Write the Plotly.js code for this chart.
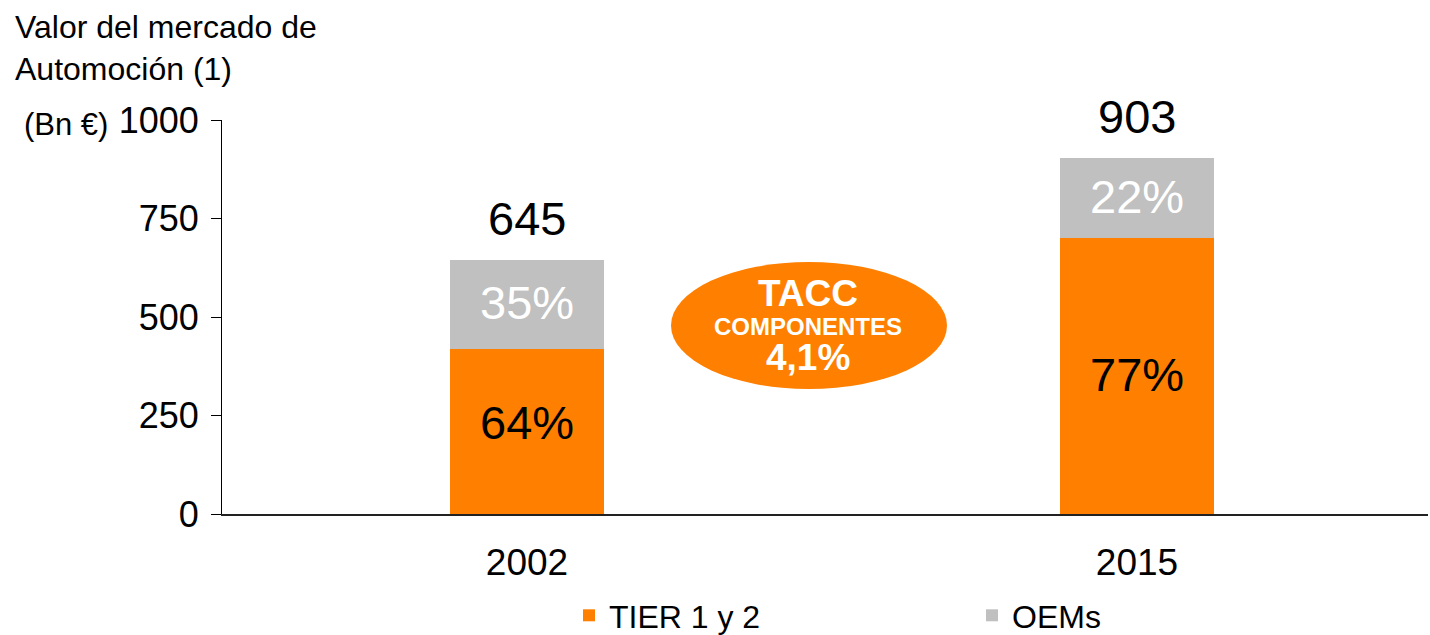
<!DOCTYPE html>
<html>
<head>
<meta charset="utf-8">
<script src="https://cdn.plot.ly/plotly-3.0.1.min.js"></script>
<style>html,body{margin:0;padding:0;background:#fff;}#chart{width:1430px;height:635px;}</style>
</head>
<body>
<div id="chart"></div>
<script>
const categories = ['2002', '2015'];
const tierValues = [419, 700];
const oemValues = [226, 203];
const tierPct = ['64%', '77%'];
const oemPct = ['35%', '22%'];
const yTicks = [0, 250, 500, 750, 1000];
const totals = tierValues.map((v, i) => v + oemValues[i]);

const FONT = 'Liberation Sans, Arial, sans-serif';
const ORANGE = '#FF7F00';
const GRAY = '#C0C0C0';

const traces = [
  {
    type: 'bar', name: 'TIER 1 y 2', x: categories, y: tierValues,
    marker: {color: ORANGE}, width: 0.254, hoverinfo: 'none'
  },
  {
    type: 'bar', name: 'OEMs', x: categories, y: oemValues,
    marker: {color: GRAY}, width: 0.254, hoverinfo: 'none'
  }
];

const PW = 1206, PH = 394, L = 222, B = 514;
const px = v => (v - L) / PW;
const py = v => (B - v) / PH;

const annotations = [];
categories.forEach((c, i) => {
  annotations.push({
    x: i, y: totals[i], xref: 'x', yref: 'y', text: String(totals[i]),
    showarrow: false, yanchor: 'bottom', yshift: 13,
    font: {family: FONT, size: 47, color: '#000'}
  });
  annotations.push({
    x: i, y: tierValues[i] / 2, xref: 'x', yref: 'y', text: tierPct[i],
    showarrow: false, yanchor: 'middle', yshift: i === 0 ? 9 : 2,
    font: {family: FONT, size: 47, color: '#000'}
  });
  annotations.push({
    x: i, y: tierValues[i] + oemValues[i] / 2, xref: 'x', yref: 'y', text: oemPct[i],
    showarrow: false, yanchor: 'middle', yshift: 2,
    font: {family: FONT, size: 47, color: '#fff'}
  });
});

annotations.push({
  xref: 'paper', yref: 'paper', x: px(13), y: py(7), xanchor: 'left', yanchor: 'top',
  align: 'left', text: 'Valor del mercado de<br>Automoción (1)', showarrow: false,
  font: {family: FONT, size: 32, color: '#000'}
});
annotations.push({
  xref: 'paper', yref: 'y', x: px(22), y: 1000, xanchor: 'left', yanchor: 'middle',
  yshift: -4, text: '(Bn €)', showarrow: false, font: {family: FONT, size: 31, color: '#000'}
});
annotations.push({
  xref: 'paper', yref: 'paper', x: px(808), y: py(293), xanchor: 'center', yanchor: 'middle',
  text: '<b>TACC</b>', showarrow: false, font: {family: FONT, size: 37, color: '#fff'}
});
annotations.push({
  xref: 'paper', yref: 'paper', x: px(808), y: py(326), xanchor: 'center', yanchor: 'middle',
  text: '<b>COMPONENTES</b>', showarrow: false, font: {family: FONT, size: 24, color: '#fff'}
});
annotations.push({
  xref: 'paper', yref: 'paper', x: px(808), y: py(357), xanchor: 'center', yanchor: 'middle',
  text: '<b>4,1%</b>', showarrow: false, font: {family: FONT, size: 37, color: '#fff'}
});

const layout = {
  width: 1430, height: 635,
  margin: {l: 222, r: 2, t: 120, b: 121, autoexpand: false},
  paper_bgcolor: '#fff', plot_bgcolor: '#fff',
  barmode: 'stack',
  showlegend: true,
  font: {family: FONT, color: '#000'},
  xaxis: {
    type: 'category', range: [-0.5, 1.477],
    showline: true, linecolor: '#222', linewidth: 2,
    ticks: '', showgrid: false, zeroline: false,
    ticklabelstandoff: 15,
    tickfont: {family: FONT, size: 37, color: '#000'},
    fixedrange: true
  },
  yaxis: {
    range: [0, 1000], tickvals: yTicks, ticktext: yTicks.map(String),
    showline: true, linecolor: '#000', linewidth: 1,
    ticks: 'outside', ticklen: 10, tickcolor: '#000', tickwidth: 1,
    ticklabelstandoff: 5,
    showgrid: false, zeroline: false,
    tickfont: {family: FONT, size: 36, color: '#000'},
    fixedrange: true
  },
  legend: {
    orientation: 'h', x: px(569), xanchor: 'left',
    y: py(588), yanchor: 'top',
    entrywidth: 358, font: {family: FONT, size: 32, color: '#000'},
    traceorder: 'normal', bgcolor: 'rgba(0,0,0,0)'
  },
  shapes: [
    {
      type: 'circle', xref: 'paper', yref: 'paper',
      x0: px(671), x1: px(947),
      y0: py(389), y1: py(262),
      fillcolor: ORANGE, line: {width: 0}, layer: 'above'
    },
    {
      type: 'line', xref: 'paper', yref: 'y', x0: 0, x1: 0,
      ysizemode: 'pixel', yanchor: 0, y0: 0, y1: -9,
      line: {color: '#000', width: 1}
    }
  ],
  annotations: annotations
};

Plotly.newPlot('chart', traces, layout, {displayModeBar: false, staticPlot: true});
</script>
</body>
</html>
